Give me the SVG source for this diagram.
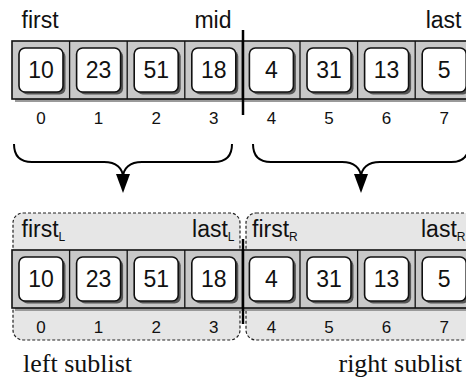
<svg xmlns="http://www.w3.org/2000/svg" width="466" height="377" viewBox="0 0 466 377">
<style>
.lbl{font-family:"Liberation Sans",Arial,sans-serif;font-size:23px;fill:#111}
.sub{font-size:12px}
.val{font-family:"Liberation Sans",Arial,sans-serif;font-size:23px;fill:#111;text-anchor:middle}
.idx{font-family:"Liberation Sans",Arial,sans-serif;font-size:17px;fill:#111;text-anchor:middle}
.cap{font-family:"Liberation Serif","Times New Roman",serif;font-size:26px;fill:#111}
.arr{fill:#c8c8c8;stroke:#111;stroke-width:1.6}
.ashadow{fill:#9a9a9a}
.sep{stroke:#111;stroke-width:1.3}
.box{fill:#fff;stroke:#111;stroke-width:1.6}
.bshadow{fill:#555}
.mid{stroke:#000;stroke-width:2.5}
.sublist{fill:#e6e6e6;stroke:#222;stroke-width:1.2;stroke-dasharray:3 2}
.brace{fill:none;stroke:#000;stroke-width:2}
.head{fill:#000}
</style>
<defs>
<g id="cellbox">
<rect class="bshadow" x="9.5" y="9.5" width="44" height="44" rx="6"/>
<rect class="box" x="7" y="7" width="44" height="44" rx="6"/>
</g>
</defs>

<g id="sublists">
<rect id="left-sublist" class="sublist" x="13" y="213" width="227" height="127" rx="10"/>
<rect id="right-sublist" class="sublist" x="246" y="213" width="240" height="127" rx="10"/>
</g>

<g id="top-array">
<rect class="ashadow" x="15" y="44" width="460.8" height="58"/>
<rect class="arr" x="12" y="41" width="460.8" height="58"/>
<line class="sep" x1="69.6" y1="41" x2="69.6" y2="99"/>
<line class="sep" x1="127.2" y1="41" x2="127.2" y2="99"/>
<line class="sep" x1="184.8" y1="41" x2="184.8" y2="99"/>
<line class="sep" x1="242.4" y1="41" x2="242.4" y2="99"/>
<line class="sep" x1="300" y1="41" x2="300" y2="99"/>
<line class="sep" x1="357.6" y1="41" x2="357.6" y2="99"/>
<line class="sep" x1="415.2" y1="41" x2="415.2" y2="99"/>
<g id="t0"><use href="#cellbox" x="12" y="41"/><text class="val" x="41" y="78">10</text><text class="idx" x="41" y="124">0</text></g>
<g id="t1"><use href="#cellbox" x="69.6" y="41"/><text class="val" x="98.6" y="78">23</text><text class="idx" x="98.6" y="124">1</text></g>
<g id="t2"><use href="#cellbox" x="127.2" y="41"/><text class="val" x="156.2" y="78">51</text><text class="idx" x="156.2" y="124">2</text></g>
<g id="t3"><use href="#cellbox" x="184.8" y="41"/><text class="val" x="213.8" y="78">18</text><text class="idx" x="213.8" y="124">3</text></g>
<g id="t4"><use href="#cellbox" x="242.4" y="41"/><text class="val" x="271.4" y="78">4</text><text class="idx" x="271.4" y="124">4</text></g>
<g id="t5"><use href="#cellbox" x="300" y="41"/><text class="val" x="329" y="78">31</text><text class="idx" x="329" y="124">5</text></g>
<g id="t6"><use href="#cellbox" x="357.6" y="41"/><text class="val" x="386.6" y="78">13</text><text class="idx" x="386.6" y="124">6</text></g>
<g id="t7"><use href="#cellbox" x="415.2" y="41"/><text class="val" x="444.2" y="78">5</text><text class="idx" x="444.2" y="124">7</text></g>
<line class="mid" x1="243" y1="30" x2="243" y2="115"/>
<text class="lbl" x="21.5" y="28">first</text>
<text class="lbl" x="231.5" y="28" text-anchor="end">mid</text>
<text class="lbl" x="461.5" y="28" text-anchor="end">last</text>
</g>

<g id="bottom-array">
<rect class="ashadow" x="15" y="253" width="460.8" height="58"/>
<rect class="arr" x="12" y="250" width="460.8" height="58"/>
<line class="sep" x1="69.6" y1="250" x2="69.6" y2="308"/>
<line class="sep" x1="127.2" y1="250" x2="127.2" y2="308"/>
<line class="sep" x1="184.8" y1="250" x2="184.8" y2="308"/>
<line class="sep" x1="242.4" y1="250" x2="242.4" y2="308"/>
<line class="sep" x1="300" y1="250" x2="300" y2="308"/>
<line class="sep" x1="357.6" y1="250" x2="357.6" y2="308"/>
<line class="sep" x1="415.2" y1="250" x2="415.2" y2="308"/>
<g id="b0"><use href="#cellbox" x="12" y="250"/><text class="val" x="41" y="287">10</text><text class="idx" x="41" y="333">0</text></g>
<g id="b1"><use href="#cellbox" x="69.6" y="250"/><text class="val" x="98.6" y="287">23</text><text class="idx" x="98.6" y="333">1</text></g>
<g id="b2"><use href="#cellbox" x="127.2" y="250"/><text class="val" x="156.2" y="287">51</text><text class="idx" x="156.2" y="333">2</text></g>
<g id="b3"><use href="#cellbox" x="184.8" y="250"/><text class="val" x="213.8" y="287">18</text><text class="idx" x="213.8" y="333">3</text></g>
<g id="b4"><use href="#cellbox" x="242.4" y="250"/><text class="val" x="271.4" y="287">4</text><text class="idx" x="271.4" y="333">4</text></g>
<g id="b5"><use href="#cellbox" x="300" y="250"/><text class="val" x="329" y="287">31</text><text class="idx" x="329" y="333">5</text></g>
<g id="b6"><use href="#cellbox" x="357.6" y="250"/><text class="val" x="386.6" y="287">13</text><text class="idx" x="386.6" y="333">6</text></g>
<g id="b7"><use href="#cellbox" x="415.2" y="250"/><text class="val" x="444.2" y="287">5</text><text class="idx" x="444.2" y="333">7</text></g>
<line class="mid" x1="243" y1="239" x2="243" y2="324"/>
<text class="lbl" x="21.5" y="237">first<tspan class="sub" dy="4">L</tspan></text>
<text class="lbl" x="234.5" y="237" text-anchor="end">last<tspan class="sub" dy="4">L</tspan></text>
<text class="lbl" x="252" y="237">first<tspan class="sub" dy="4">R</tspan></text>
<text class="lbl" x="421" y="237">last<tspan class="sub" dy="4">R</tspan></text>
</g>

<g id="connectors">
<path class="brace" d="M14,144 C14,156 20,162 32,162 L104,162 C116,162 123,168 123,178 C123,168 130,162 142,162 L214,162 C226,162 232,156 232,144"/>
<polygon class="head" points="116,174 130,174 123,193"/>
<path class="brace" d="M253,144 C253,156 259,162 271,162 L342,162 C354,162 361,168 361,178 C361,168 368,162 380,162 L451,162 C463,162 469,156 469,144"/>
<polygon class="head" points="354,174 368,174 361,193"/>
</g>

<g id="captions">
<text class="cap" x="23" y="372">left sublist</text>
<text class="cap" x="462" y="372" text-anchor="end">right sublist</text>
</g>
</svg>
